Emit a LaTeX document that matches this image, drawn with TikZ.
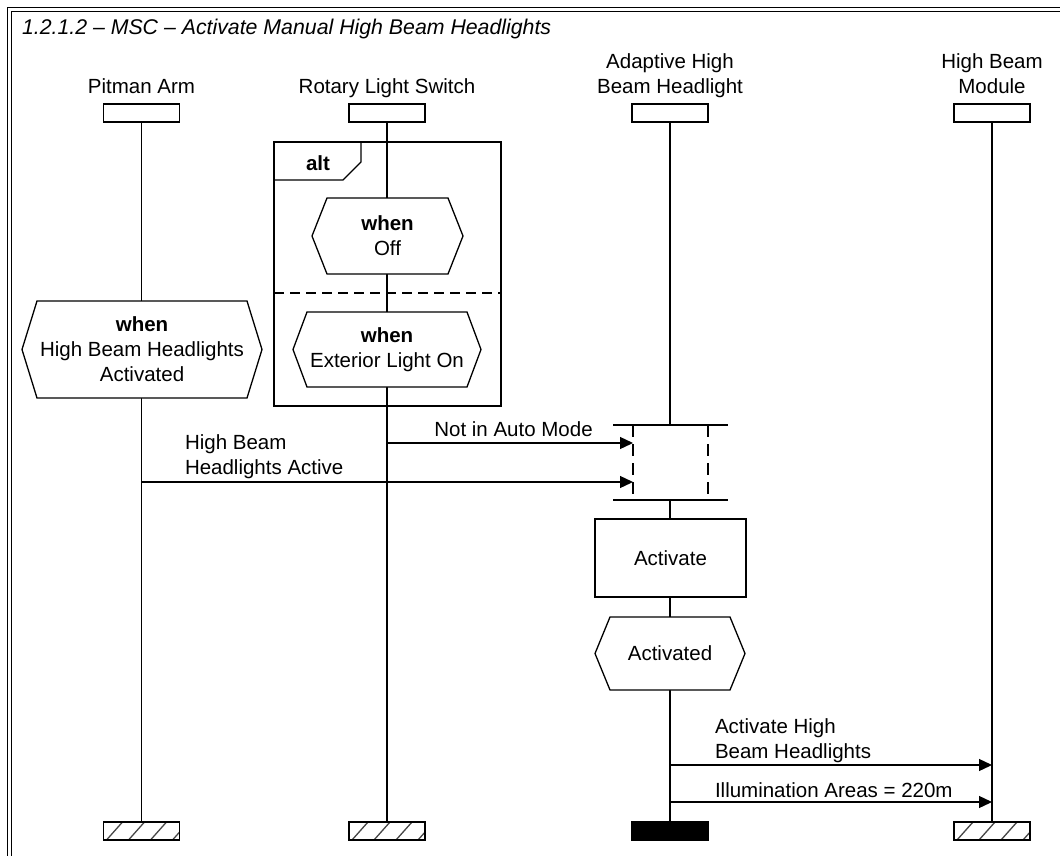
\documentclass[tikz,border=0pt]{standalone}
\usepackage{fontspec}
\setmainfont{Liberation Sans}
\usetikzlibrary{arrows.meta,calc}
\pgfdeclarelayer{back}
\pgfdeclarelayer{mid}
\pgfsetlayers{back,mid,main}
\newcommand\hexof[2]{%
  \begin{pgfonlayer}{mid}
  \draw[ln, fill=white] (#1.west) -- ([xshift=#2pt]#1.north west) -- ([xshift=-#2pt]#1.north east) -- (#1.east) -- ([xshift=-#2pt]#1.south east) -- ([xshift=#2pt]#1.south west) -- cycle;
  \end{pgfonlayer}}
\begin{document}
\begin{tikzpicture}[x=1pt,y=-1pt,
  every node/.style={font=\fontsize{20.5}{25}\selectfont, inner sep=0pt, outer sep=0pt},
  ln/.style={line width=1.3pt},
  framel/.style={line width=1.2pt},
  hdr/.style={draw, ln, fill=white, minimum width=76pt, minimum height=18pt},
  endh/.style={hdr, path picture={
     \foreach \d in {3,25,47,69}
       \draw[gray!55!black, line width=1.3pt] ([xshift=\d pt]path picture bounding box.south west) -- ++(16,-18);}},
  endb/.style={hdr, fill=black},
  lbl/.style={anchor=south, text depth=0pt, align=center},
  mlbl/.style={anchor=south west, text depth=0pt, align=left},
  hexn/.style={align=center},
  msg/.style={ln, -{Triangle[length=13pt,width=12pt]}},
  sepline/.style={ln, dash pattern=on 10pt off 6pt},
  coreside/.style={ln, dash pattern=on 12pt off 7pt}
]
\useasboundingbox (0,0) rectangle (1060,856);
\clip (0,0) rectangle (1060,856);
\begin{pgfonlayer}{back}
\fill[white] (0,0) rectangle (1060,856);
\end{pgfonlayer}
% frame (only its top and left sides fall inside the picture)
\draw[framel] (1080,7.5) -- (7.5,7.5) -- (7.5,880);
\draw[framel] (1080,11.5) -- (11.5,11.5) -- (11.5,880);
\node[anchor=base west, font=\fontsize{21.3}{25}\selectfont\itshape] (title) at (22,35) {1.2.1.2 – MSC – Activate Manual High Beam Headlights};

% instance heads and labels
\node[hdr] (paH) at (141.5,113) {};
\node[hdr] (rlsH) at (387,113) {};
\node[hdr] (ahbH) at (670,113) {};
\node[hdr] (hbmH) at (992,113) {};
\node[lbl] (paL) at (141.5,94) {Pitman Arm};
\node[lbl] (rlsL) at (387,94) {Rotary Light Switch};
\node[lbl] (ahbL) at (670,94) {Adaptive High\\Beam Headlight};
\node[lbl] (hbmL) at (992,94) {High Beam\\Module};

% instance ends
\node[endh] (paE) at (141.5,831) {};
\node[endh] (rlsE) at (387,831) {};
\node[endb] (ahbE) at (670,831) {};
\node[endh] (hbmE) at (992,831) {};

% lifelines
\begin{pgfonlayer}{back}
\draw[ln] (paH) -- (paE);
\draw[ln] (rlsH) -- (rlsE);
\draw[ln] (ahbH) -- (ahbE);
\draw[ln] (hbmH) -- (hbmE);
\end{pgfonlayer}

% alt frame
\node[draw, ln, minimum width=227pt, minimum height=264pt] (alt) at (387.5,274) {};
\draw[ln] (alt.north west) ++(0,38) -- ++(69,0) -- ++(18,-18) -- ++(0,-20);
\node[anchor=base, font=\fontsize{20.5}{25}\selectfont\bfseries] (altL) at (318,170) {alt};
\coordinate (sep) at (387.5,293);
\draw[sepline] (alt.west |- sep) -- (alt.east |- sep);

% conditions
\node[hexn, minimum width=151pt, minimum height=76pt] (whenOff) at (387.5,236) {\textbf{when}\\Off};
\hexof{whenOff}{15}
\node[hexn, minimum width=188pt, minimum height=75pt] (whenExt) at (387,349.5) {\textbf{when}\\Exterior Light On};
\hexof{whenExt}{14}
\node[hexn, minimum width=240pt, minimum height=97pt] (whenPit) at (142,349.5) {\textbf{when}\\High Beam Headlights\\Activated};
\hexof{whenPit}{15}

% coregion
\node[fill=white, minimum width=75pt, minimum height=75pt] (core) at (670.5,462.5) {};
\draw[ln] ([xshift=-20pt]core.north west) -- ([xshift=20pt]core.north east);
\draw[ln] ([xshift=-20pt]core.south west) -- ([xshift=20pt]core.south east);
\draw[coreside] (core.north west) -- (core.south west);
\draw[coreside] (core.north east) -- (core.south east);

% messages into coregion
\coordinate (y1) at (0,443);
\coordinate (y2) at (0,482);
\draw[msg] (rlsH |- y1) -- (core.west |- y1);
\draw[msg] (paH |- y2) -- (core.west |- y2);
\node[lbl] (m1L) at (513.5,436) {Not in Auto Mode};
\node[mlbl] (m2L) at (185,474) {High Beam\\Headlights Active};

% action and condition
\node[draw, ln, fill=white, minimum width=151pt, minimum height=78pt] (act) at (670.5,558) {Activate};
\node[hexn, minimum width=150pt, minimum height=73pt] (actd) at (670,653.5) {Activated};
\hexof{actd}{15}

% outgoing messages
\coordinate (y3) at (0,765);
\coordinate (y4) at (0,802);
\draw[msg] (ahbH |- y3) -- (hbmH |- y3);
\draw[msg] (ahbH |- y4) -- (hbmH |- y4);
\node[mlbl] (m3L) at (715,758) {Activate High\\Beam Headlights};
\node[mlbl] (m4L) at (715,797) {Illumination Areas = 220m};
\end{tikzpicture}
\end{document}
